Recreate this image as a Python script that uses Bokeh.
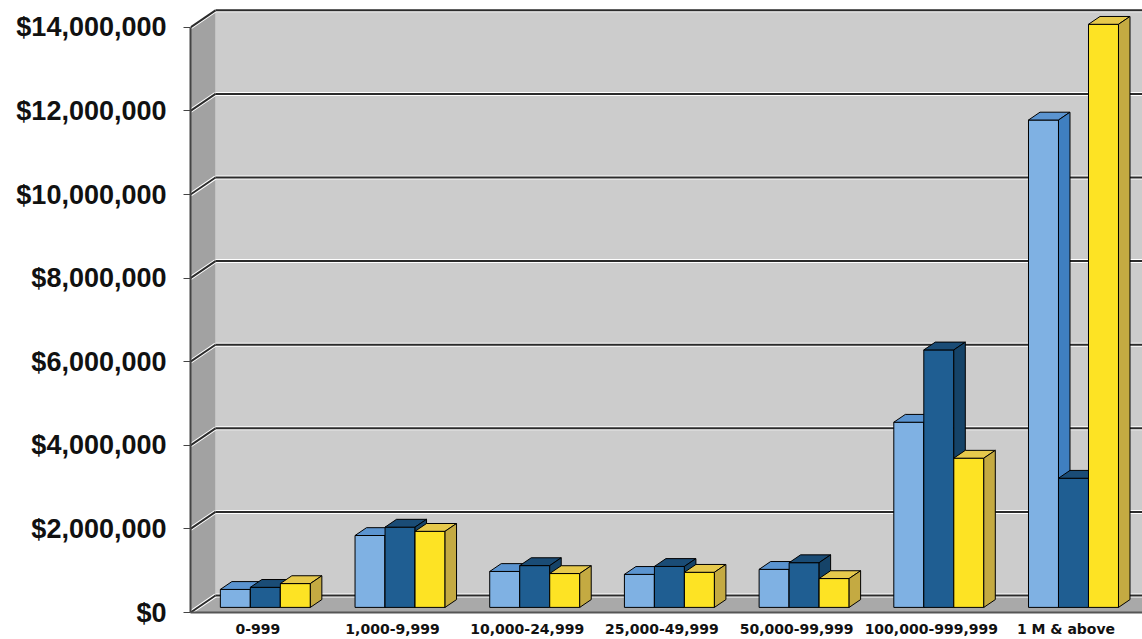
import numpy as np
from bokeh.plotting import figure
from bokeh.models import Range1d, FixedTicker, NumeralTickFormatter
from bokeh.embed import file_html
from bokeh.resources import INLINE

# ---------------- data ----------------
categories = ["0-999", "1,000-9,999", "10,000-24,999", "25,000-49,999",
              "50,000-99,999", "100,000-999,999", "1 M & above"]
series_a = [430000, 1720000, 860000, 790000, 910000, 4430000, 11660000]
series_b = [480000, 1920000, 1000000, 980000, 1070000, 6160000, 3090000]
series_c = [570000, 1820000, 810000, 840000, 690000, 3570000, 13950000]
y_ticks = [0, 2000000, 4000000, 6000000, 8000000, 10000000, 12000000, 14000000]

# ---------------- style / projection ----------------
W, H = 1142, 639
LEFT, BOTTOM, TOP = 190, 27, 8
X0, X1 = -0.5, 6.568
Y0, Y1 = 0, 14.45e6
px_x = (W - LEFT) / (X1 - X0)
px_y = (H - BOTTOM - TOP) / (Y1 - Y0)
DX = 25 / px_x          # depth shift of back wall (x, data units)
DY = 17 / px_y          # depth shift of back wall (y, data units)
ZF, ZB = 0.30, 0.76     # bar front / back depth
BW = 30 / px_x          # bar width

face = {
    "front": ["#7fb1e3", "#1f5e92", "#fde324"],
    "top":   ["#5b94d0", "#1a4c76", "#e6c94c"],
    "side":  ["#3f7fc0", "#154368", "#c4aa42"],
}

p = figure(width=W, height=H, output_backend="svg", toolbar_location=None,
           x_range=Range1d(X0, X1), y_range=Range1d(Y0, Y1),
           min_border_left=LEFT, min_border_bottom=BOTTOM, min_border_top=TOP,
           min_border_right=0, background_fill_color="white",
           border_fill_color="white", outline_line_color=None)
p.xgrid.visible = False
p.ygrid.visible = False

ymax = y_ticks[-1]
# back wall
p.quad(left=[X0 + DX], right=[X1], bottom=[DY], top=[ymax + DY],
       fill_color="#cccccc", line_color=None)
# left wall
p.patch([X0, X0, X0 + DX, X0 + DX], [0, ymax, ymax + DY, DY],
        fill_color="#a2a2a2", line_color=None)
# floor
p.patch([X0, X1, X1, X0 + DX], [0, 0, DY, DY],
        fill_color="#a9a9a9", line_color=None)

# gridlines (white halo + dark line)
gx0 = [X0 + DX] * len(y_ticks)
gx1 = [X1] * len(y_ticks)
gy = [t + DY for t in y_ticks]
lx0 = [X0] * len(y_ticks)
lx1 = [X0 + DX] * len(y_ticks)
for col, lw in (("white", 4), ("#2b2b2b", 2)):
    p.segment(x0=gx0, y0=gy, x1=gx1, y1=gy, line_color=col, line_width=lw)
    p.segment(x0=lx0, y0=list(y_ticks), x1=lx1, y1=gy, line_color=col, line_width=lw)

# 3D bars
xs_idx = np.arange(len(categories))
for s, vals in enumerate([series_a, series_b, series_c]):
    left = xs_idx + (s - 1.5) * BW + ZF * DX
    right = left + BW
    v = np.array(vals, dtype=float)
    bf = ZF * DY
    # front
    p.quad(left=left, right=right, bottom=[bf] * len(v), top=v + bf,
           fill_color=face["front"][s], line_color="black", line_width=1)
    dxs = (ZB - ZF) * DX
    dys = (ZB - ZF) * DY
    tx, ty, sx, sy = [], [], [], []
    for l, r, h in zip(left, right, v):
        tx.append([l, r, r + dxs, l + dxs])
        ty.append([h + bf, h + bf, h + bf + dys, h + bf + dys])
        sx.append([r, r + dxs, r + dxs, r])
        sy.append([bf, bf + dys, h + bf + dys, h + bf])
    p.patches(tx, ty, fill_color=face["top"][s], line_color="black", line_width=1)
    p.patches(sx, sy, fill_color=face["side"][s], line_color="black", line_width=1)

# axes
p.yaxis.ticker = FixedTicker(ticks=y_ticks)
p.yaxis.formatter = NumeralTickFormatter(format="$0,0")
p.yaxis.bounds = (0, ymax)
p.yaxis.major_label_text_font = "Liberation Sans"
p.yaxis.major_label_text_font_style = "bold"
p.yaxis.major_label_text_font_size = "27px"
p.yaxis.major_label_text_color = "#111111"
p.yaxis.major_tick_out = 7
p.yaxis.major_tick_in = 0
p.yaxis.minor_tick_line_color = None
p.yaxis.major_label_standoff = 17
p.yaxis.axis_line_color = "#444444"
p.yaxis.axis_line_width = 2
p.yaxis.major_tick_line_color = "#444444"

p.xaxis.ticker = FixedTicker(ticks=list(range(len(categories))))
p.xaxis.major_label_overrides = {i: c for i, c in enumerate(categories)}
p.xaxis.major_label_text_font = "DejaVu Sans"
p.xaxis.major_label_text_font_style = "bold"
p.xaxis.major_label_text_font_size = "14px"
p.xaxis.major_label_text_color = "#111111"
p.xaxis.major_tick_out = 0
p.xaxis.major_tick_in = 0
p.xaxis.minor_tick_line_color = None
p.xaxis.major_label_standoff = 8
p.xaxis.axis_line_color = "#555555"
p.xaxis.axis_line_width = 2

open("out.html", "w").write(file_html(p, INLINE))
